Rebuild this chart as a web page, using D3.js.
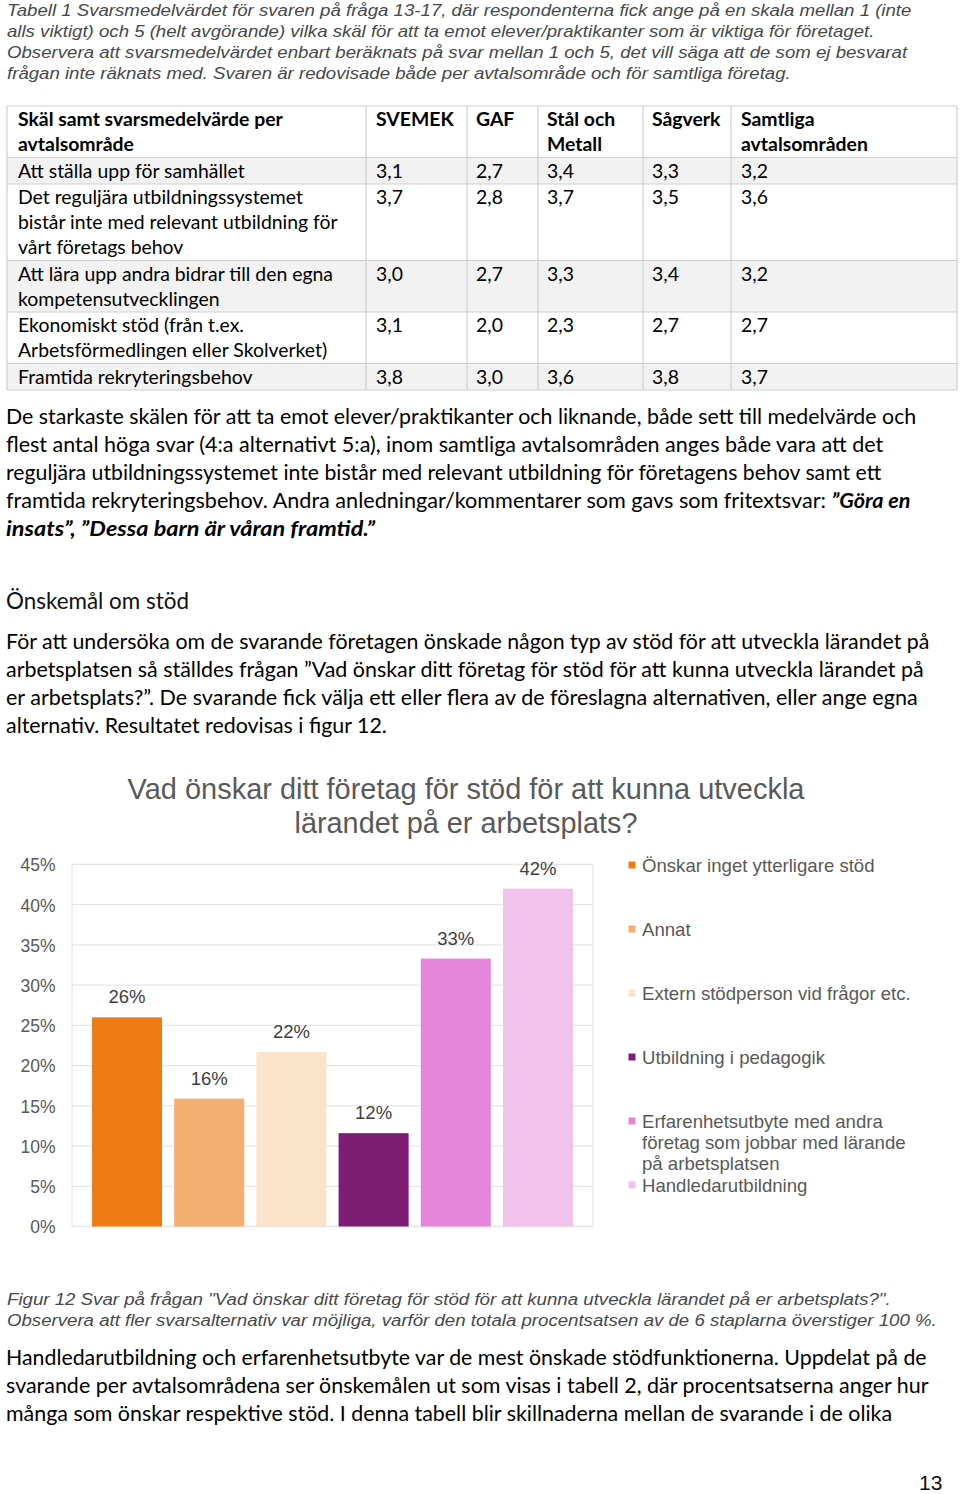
<!DOCTYPE html>
<html><head><meta charset="utf-8">
<script src="https://cdn.jsdelivr.net/npm/d3@7"></script>
<style>
html,body{margin:0;padding:0;background:#fff;}
svg{display:block;}
</style></head>
<body>
<script>
// ---------- DATA ----------
const tableCaption = [
  "Tabell 1 Svarsmedelvärdet för svaren på fråga 13-17, där respondenterna fick ange på en skala mellan 1 (inte",
  "alls viktigt) och 5 (helt avgörande) vilka skäl för att ta emot elever/praktikanter som är viktiga för företaget.",
  "Observera att svarsmedelvärdet enbart beräknats på svar mellan 1 och 5, det vill säga att de som ej besvarat",
  "frågan inte räknats med. Svaren är redovisade både per avtalsområde och för samtliga företag."
];
const tableHeaders = [["Skäl samt svarsmedelvärde per","avtalsområde"],["SVEMEK"],["GAF"],["Stål och","Metall"],["Sågverk"],["Samtliga","avtalsområden"]];
const tableRowLabels = [
  ["Att ställa upp för samhället"],
  ["Det reguljära utbildningssystemet","bistår inte med relevant utbildning för","vårt företags behov"],
  ["Att lära upp andra bidrar till den egna","kompetensutvecklingen"],
  ["Ekonomiskt stöd (från t.ex.","Arbetsförmedlingen eller Skolverket)"],
  ["Framtida rekryteringsbehov"]
];
const svemek   = ["3,1","3,7","3,0","3,1","3,8"];
const gaf      = ["2,7","2,8","2,7","2,0","3,0"];
const stalMet  = ["3,4","3,7","3,3","2,3","3,6"];
const sagverk  = ["3,3","3,5","3,4","2,7","3,8"];
const samtliga = ["3,2","3,6","3,2","2,7","3,7"];

const para1 = [
  [["De starkaste skälen för att ta emot elever/praktikanter och liknande, både sett till medelvärde och","n"]],
  [["flest antal höga svar (4:a alternativt 5:a), inom samtliga avtalsområden anges både vara att det","n"]],
  [["reguljära utbildningssystemet inte bistår med relevant utbildning för företagens behov samt ett","n"]],
  [["framtida rekryteringsbehov. Andra anledningar/kommentarer som gavs som fritextsvar: ","n"],["”Göra en","bi"]],
  [["insats”, ”Dessa barn är våran framtid.”","bi"]]
];
const heading = "Önskemål om stöd";
const para2 = [
  "För att undersöka om de svarande företagen önskade någon typ av stöd för att utveckla lärandet på",
  "arbetsplatsen så ställdes frågan ”Vad önskar ditt företag för stöd för att kunna utveckla lärandet på",
  "er arbetsplats?”. De svarande fick välja ett eller flera av de föreslagna alternativen, eller ange egna",
  "alternativ. Resultatet redovisas i figur 12."
];
const chartTitle = ["Vad önskar ditt företag för stöd för att kunna utveckla","lärandet på er arbetsplats?"];
const categories = ["Önskar inget ytterligare stöd","Annat","Extern stödperson vid frågor etc.","Utbildning i pedagogik","Erfarenhetsutbyte med andra företag som jobbar med lärande på arbetsplatsen","Handledarutbildning"];
const legendLines = [["Önskar inget ytterligare stöd"],["Annat"],["Extern stödperson vid frågor etc."],["Utbildning i pedagogik"],["Erfarenhetsutbyte med andra","företag som jobbar med lärande","på arbetsplatsen"],["Handledarutbildning"]];
const values = [26.0, 15.9, 21.7, 11.6, 33.3, 42.0];
const colors = ["#ED7C15","#F4AE70","#FBE2CB","#7E1B72","#E586DA","#F1C2EC"];
const yTicks = [0,5,10,15,20,25,30,35,40,45];
const figCaption = [
  "Figur 12 Svar på frågan \"Vad önskar ditt företag för stöd för att kunna utveckla lärandet på er arbetsplats?\".",
  "Observera att fler svarsalternativ var möjliga, varför den totala procentsatsen av de 6 staplarna överstiger 100 %."
];
const para3 = [
  "Handledarutbildning och erfarenhetsutbyte var de mest önskade stödfunktionerna. Uppdelat på de",
  "svarande per avtalsområdena ser önskemålen ut som visas i tabell 2, där procentsatserna anger hur",
  "många som önskar respektive stöd. I denna tabell blir skillnaderna mellan de svarande i de olika"
];
const pageNumber = "13";

// ---------- LAYOUT ----------
const W = 960, H = 1494;
const svg = d3.select("body").append("svg").attr("width", W).attr("height", H);
svg.append("rect").attr("width", W).attr("height", H).attr("fill", "#fff");

const BODY = "Lato, 'Open Sans', sans-serif";
const ARIAL = "'Liberation Sans', Arial, sans-serif";

// draws a line of text (optionally with styled segments) and fits it to a target width
function addLine(parent, x, y, segs, o) {
  if (typeof segs === "string") segs = [[segs, "n"]];
  const t = parent.append("text")
    .attr("x", 0).attr("y", 0)
    .attr("font-family", o.font).attr("font-size", o.size)
    .attr("fill", o.fill || "#000")
    .attr("font-style", o.italic ? "italic" : null)
    .attr("font-weight", o.weight || null)
    .attr("text-anchor", o.anchor || "start");
  segs.forEach(([s, st]) => {
    const ts = t.append("tspan").text(s);
    if (st.includes("b")) ts.attr("font-weight", "bold");
    if (st.includes("i")) ts.attr("font-style", "italic");
  });
  let sx = o.scale || 1;
  if (o.width) {
    const w = t.node().getComputedTextLength();
    if (w > 0) sx = o.width / w;
  }
  t.attr("transform", `translate(${x},${y}) scale(${sx},1)`);
  return t;
}

// Table caption
const capWidths = [905, 868, 901, 784];
tableCaption.forEach((l, i) => addLine(svg, 7, 16 + i * 21, l, {font: ARIAL, size: 17, italic: true, fill: "#46484c", width: capWidths[i]}));

// Table
const colX = [7, 366, 467, 538, 643, 731, 957];
const columns = [svemek, gaf, stalMet, sagverk, samtliga];
const rowsLines = [tableHeaders.reduce((m, h) => Math.max(m, h.length), 0)].concat(tableRowLabels.map(r => r.length));
const rowTops = [106];
rowsLines.forEach((n, i) => rowTops.push(rowTops[i] + n * 25 + 1.5));
const tbl = svg.append("g");
const probe = addLine(tbl, 0, -100, tableRowLabels[0][0], {font: BODY, size: 18.5, width: 227});
const tScale = +probe.attr("transform").match(/scale\(([\d.]+)/)[1];
probe.remove();
rowsLines.forEach((n, i) => {
  if (i > 0 && i % 2 === 1) {
    tbl.append("rect").attr("x", colX[0]).attr("y", rowTops[i]).attr("width", colX[6] - colX[0]).attr("height", rowTops[i + 1] - rowTops[i]).attr("fill", "#f2f2f2");
  }
});
rowTops.forEach(y => tbl.append("line").attr("x1", colX[0]).attr("x2", colX[6]).attr("y1", y).attr("y2", y).attr("stroke", "#cfcfcf").attr("stroke-width", 1.2));
colX.forEach(x => tbl.append("line").attr("x1", x).attr("x2", x).attr("y1", rowTops[0]).attr("y2", rowTops[rowTops.length - 1]).attr("stroke", "#cfcfcf").attr("stroke-width", 1.2));
const padX = [11, 10, 9, 9, 9, 10];
tableHeaders.forEach((h, c) => h.forEach((l, k) => addLine(tbl, colX[c] + padX[c], rowTops[0] + 20 + k * 25, [[l, "b"]], {font: BODY, size: 18.5, scale: tScale})));
tableRowLabels.forEach((r, i) => {
  r.forEach((l, k) => addLine(tbl, colX[0] + padX[0], rowTops[i + 1] + 20 + k * 25, l, {font: BODY, size: 18.5, scale: tScale}));
  columns.forEach((col, c) => addLine(tbl, colX[c + 1] + padX[c + 1], rowTops[i + 1] + 20, col[i], {font: BODY, size: 18.5, scale: tScale}));
});

// Paragraph 1
const p1W = [911, 878, 876, 905, 369];
para1.forEach((l, i) => addLine(svg, 6, 424 + i * 28, l, {font: BODY, size: 21, width: p1W[i]}));
// Heading
addLine(svg, 6, 609, heading, {font: BODY, size: 24, weight: 400, fill: "#111", width: 183});
// Paragraph 2
const p2W = [924, 918, 912, 381];
para2.forEach((l, i) => addLine(svg, 6, 649 + i * 28, l, {font: BODY, size: 21, width: p2W[i]}));

// ---------- CHART ----------
const chart = svg.append("g");
const gray = "#595959";
const tW = [677, 343];
chartTitle.forEach((l, i) => addLine(chart, 466, 799 + i * 34, l, {font: ARIAL, size: 29, fill: gray, anchor: "middle", width: tW[i]}));

const x = d3.scaleBand().domain(categories).range([72, 593]).paddingInner(0.148).paddingOuter(0.243);
const y = d3.scaleLinear().domain([0, 45]).range([1226.5, 864.5]);

chart.append("g").selectAll("line").data(yTicks).join("line")
  .attr("x1", 72).attr("x2", 593).attr("y1", d => y(d)).attr("y2", d => y(d))
  .attr("stroke", "#e6e6e6").attr("stroke-width", 1.3);
chart.append("line").attr("x1", 72).attr("x2", 72).attr("y1", y(45)).attr("y2", y(0)).attr("stroke", "#e6e6e6").attr("stroke-width", 1.3);
chart.append("line").attr("x1", 593).attr("x2", 593).attr("y1", y(45)).attr("y2", y(0)).attr("stroke", "#e6e6e6").attr("stroke-width", 1.3);

const yAxis = d3.axisLeft(y).tickValues(yTicks).tickFormat(d => d + "%").tickSize(0).tickPadding(0);
const ya = chart.append("g").attr("transform", "translate(55.5,0)").call(yAxis);
ya.select(".domain").remove();
ya.selectAll("text").attr("font-family", ARIAL).attr("font-size", 17.5).attr("fill", gray).attr("dy", "0.36em");

chart.append("g").selectAll("rect").data(values).join("rect")
  .attr("x", (d, i) => x(categories[i])).attr("width", x.bandwidth())
  .attr("y", d => y(d)).attr("height", d => y(0) - y(d))
  .attr("fill", (d, i) => colors[i]);

const fmt = d => Math.round(d) + "%";
chart.append("g").selectAll("text").data(values).join("text")
  .attr("x", (d, i) => x(categories[i]) + x.bandwidth() / 2)
  .attr("y", d => y(d) - 14)
  .attr("text-anchor", "middle").attr("font-family", ARIAL).attr("font-size", 18.5).attr("fill", "#404040")
  .text(fmt);

// Legend
const legY = [865, 929, 993, 1057, 1121, 1185];
const leg = chart.append("g");
legendLines.forEach((lines, i) => {
  leg.append("rect").attr("x", 628.5).attr("y", legY[i] - 3.5).attr("width", 7).attr("height", 7).attr("fill", colors[i]);
  lines.forEach((l, k) => leg.append("text").attr("x", 642).attr("y", legY[i] + k * 21).attr("dy", "0.36em")
    .attr("font-family", ARIAL).attr("font-size", 18.6).attr("fill", gray).text(l));
});

// Figure caption
const fcW = [884, 930];
figCaption.forEach((l, i) => addLine(svg, 7, 1305 + i * 21, l, {font: ARIAL, size: 17, italic: true, fill: "#46484c", width: fcW[i]}));
// Paragraph 3
const p3W = [921, 923, 887];
para3.forEach((l, i) => addLine(svg, 6, 1365 + i * 28, l, {font: BODY, size: 21, width: p3W[i]}));
// Page number
addLine(svg, 919, 1490, pageNumber, {font: ARIAL, size: 21, fill: "#111"});
</script>
</body></html>
